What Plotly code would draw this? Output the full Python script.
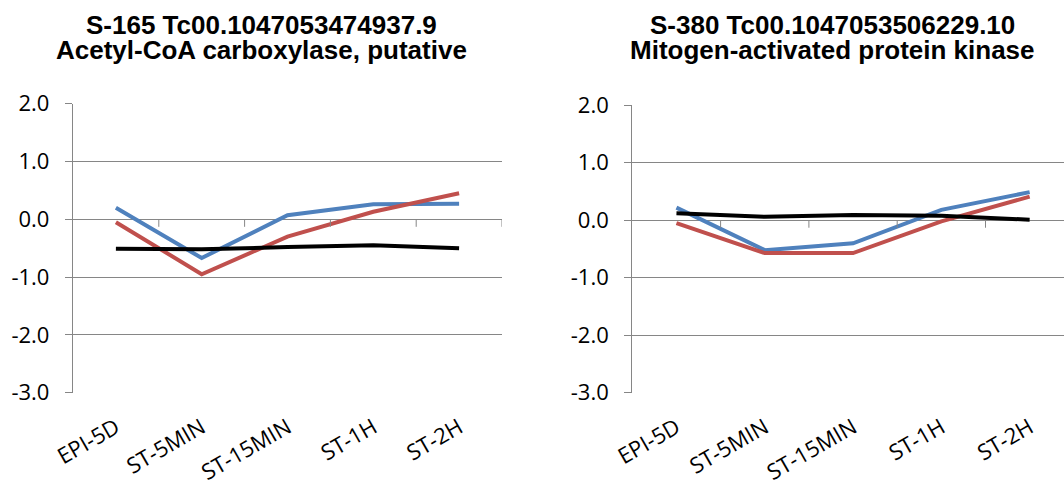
import plotly.graph_objects as go

categories = ["EPI-5D", "ST-5MIN", "ST-15MIN", "ST-1H", "ST-2H"]

# Left panel: S-165 Tc00.1047053474937.9
left_title_1 = "S-165 Tc00.1047053474937.9"
left_title_2 = "Acetyl-CoA carboxylase, putative"
left_blue = [0.20, -0.67, 0.07, 0.26, 0.27]
left_red = [-0.05, -0.95, -0.30, 0.13, 0.45]
left_black = [-0.51, -0.52, -0.48, -0.45, -0.50]

# Right panel: S-380 Tc00.1047053506229.10
right_title_1 = "S-380 Tc00.1047053506229.10"
right_title_2 = "Mitogen-activated protein kinase"
right_blue = [0.22, -0.52, -0.40, 0.18, 0.49]
right_red = [-0.05, -0.57, -0.57, -0.02, 0.41]
right_black = [0.12, 0.06, 0.09, 0.08, 0.01]

y_ticks = [-3, -2, -1, 0, 1, 2]

BLUE = "#4F81BD"
RED = "#C0504D"
BLACK = "#000000"
GRID = "#868686"

W, H = 1064, 481
xi = list(range(len(categories)))

fig = go.Figure()
for (vals, col) in [(left_blue, BLUE), (left_red, RED), (left_black, BLACK)]:
    fig.add_trace(go.Scatter(x=xi, y=vals, mode="lines", line=dict(color=col, width=4),
                             xaxis="x", yaxis="y", showlegend=False, hoverinfo="skip"))
for (vals, col) in [(right_blue, BLUE), (right_red, RED), (right_black, BLACK)]:
    fig.add_trace(go.Scatter(x=xi, y=vals, mode="lines", line=dict(color=col, width=4),
                             xaxis="x2", yaxis="y2", showlegend=False, hoverinfo="skip"))

tickfont = dict(family="Open Sans", size=22, color="#000000")
xfont = dict(family="Open Sans", size=22, color="#000000")

def yaxis(domain, anchor):
    return dict(domain=domain, anchor=anchor, range=[-3, 2], tickvals=y_ticks,
                ticktext=[f"{v:.1f}" for v in y_ticks], showgrid=True, gridcolor=GRID,
                gridwidth=1, showline=True, linecolor=GRID, linewidth=1.3,
                ticks="outside", ticklen=7, tickcolor=GRID, tickwidth=1,
                tickfont=tickfont, zeroline=False, ticklabelstandoff=11, fixedrange=True,
                automargin=False)

def xaxis(domain, anchor, rng):
    return dict(domain=domain, anchor=anchor, range=rng, tickvals=xi, ticktext=categories,
                tickangle=-30, showgrid=False, showline=False, zeroline=False, ticks="",
                tickfont=xfont, fixedrange=True, automargin=False, ticklabelstandoff=17)

fig.update_layout(
    width=W, height=H, autosize=False,
    margin=dict(l=0, r=0, t=0, b=0, pad=0),
    paper_bgcolor="white", plot_bgcolor="white",
    xaxis=xaxis([73 / W, 502 / W], "y", [-0.5, 4.5]),
    yaxis=yaxis([(H - 392.7) / H, (H - 103.7) / H], "x"),
    xaxis2=xaxis([632.3 / W, 1.0], "y2", [-0.5, -0.5 + (W - 632.3) / 88.3]),
    yaxis2=yaxis([(H - 392.7) / H, (H - 105.3) / H], "x2"),
)

# category-separator tick marks on the horizontal axis at y = 0
shapes = []
for xa, ya in [("x", "y"), ("x2", "y2")]:
    for b in [i + 0.5 for i in xi]:
        shapes.append(dict(type="line", xref=xa, yref=ya, x0=b, x1=b, y0=0, y1=-0.13,
                           line=dict(color=GRID, width=1)))
fig.update_layout(shapes=shapes)

tfont = dict(family="Liberation Sans", size=26, color="#000000")
for cx, t1, t2 in [(261, left_title_1, left_title_2), (832, right_title_1, right_title_2)]:
    fig.add_annotation(x=cx / W, y=1 - 25 / H, xref="paper", yref="paper", text=f"<b>{t1}</b>",
                       showarrow=False, font=tfont, xanchor="center", yanchor="middle")
    fig.add_annotation(x=cx / W, y=1 - 50 / H, xref="paper", yref="paper", text=f"<b>{t2}</b>",
                       showarrow=False, font=tfont, xanchor="center", yanchor="middle")

fig.write_html(
    "out.html",
    config={"displayModeBar": False},
    post_script="document.body.style.margin='0';document.body.style.overflow='hidden';",
)
